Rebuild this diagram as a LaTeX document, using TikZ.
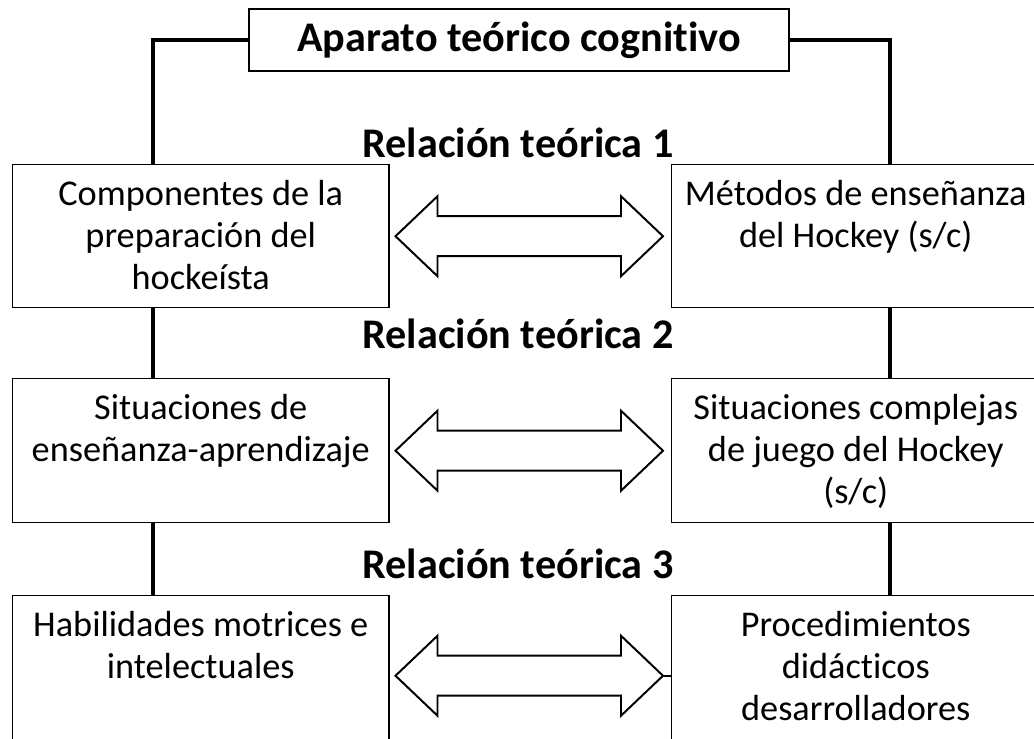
\documentclass[tikz,border=0pt]{standalone}
\usepackage{fontspec}
\setmainfont{Carlito}[Ligatures=NoCommon]
\usetikzlibrary{calc}
\newcommand{\bodyfont}{\fontsize{25.8pt}{30pt}\selectfont}
\newcommand{\headfont}{\fontsize{30pt}{36pt}\selectfont\bfseries}
\newcommand{\celltext}[3]{\parbox[c][#2][t]{#1}{\centering\rule{0pt}{29pt}#3}}
\tikzset{
    cell/.style = {draw, line width=1pt, inner sep=0pt, anchor=north west, font=\bodyfont},
    relation/.style = {anchor=base, inner sep=0pt, font=\headfont},
    link/.style = {line width=2.8pt},
    blockarrow/.style = {line width=1.4pt, line join=miter},
}
\begin{document}
\begin{tikzpicture}[x=0.025cm, y=-0.025cm]
\clip (0,0) rectangle (1034,738);
\node[draw, line width=1pt, minimum width=13.5cm, minimum height=1.55cm, font=\headfont] (aparato) at (519,40) {Aparato teórico cognitivo};

\node[cell] (L1) at (12,164) {\celltext{9.4cm}{3.575cm}{Componentes de la\\preparación del\\hockeísta}};
\node[cell] (R1) at (671,164) {\celltext{9.2cm}{3.575cm}{Métodos de enseñanza\\del Hockey (s/c)}};
\node[cell] (L2) at (12,378) {\celltext{9.4cm}{3.6cm}{Situaciones de\\enseñanza-aprendizaje}};
\node[cell] (R2) at (671,378) {\celltext{9.2cm}{3.6cm}{Situaciones complejas\\de juego del Hockey\\(s/c)}};
\node[cell] (L3) at (12,595) {\celltext{9.4cm}{4cm}{Habilidades motrices e\\intelectuales}};
\node[cell] (R3) at (671,595) {\celltext{9.2cm}{4cm}{Procedimientos\\didácticos\\desarrolladores}};

\node[relation] (rel1) at (518,157) {Relación teórica 1};
\node[relation] (rel2) at (518,348) {Relación teórica 2};
\node[relation] (rel3) at (518,578) {Relación teórica 3};

% vertical links
\coordinate (lx) at ($(L1.north west)+(141,0)$);
\coordinate (rx) at ($(R1.north west)+(219,0)$);
\draw[link] (aparato.west) -| (lx);
\draw[link] (aparato.east) -| (rx);
\draw[link] (L1.south -| lx) -- (L2.north -| lx);
\draw[link] (L2.south -| lx) -- (L3.north -| lx);
\draw[link] (R1.south -| rx) -- (R2.north -| rx);
\draw[link] (R2.south -| rx) -- (R3.north -| rx);

% double arrows
\foreach \r in {1,2,3}{
  \coordinate (a\r) at ($(L\r.east)+(6,0)$);
  \coordinate (b\r) at ($(R\r.west)+(-8,0)$);
  \draw[blockarrow] (a\r) -- ++(42,40) -- ++(0,-20) -- ($(b\r)+(-42,20)$) -- ++(0,20)
    -- (b\r) -- ++(-42,-40) -- ++(0,20) -- ($(a\r)+(42,-20)$) -- ++(0,-20) -- cycle;
}
\draw[blockarrow] (b3) -- (R3.west);
\end{tikzpicture}
\end{document}
